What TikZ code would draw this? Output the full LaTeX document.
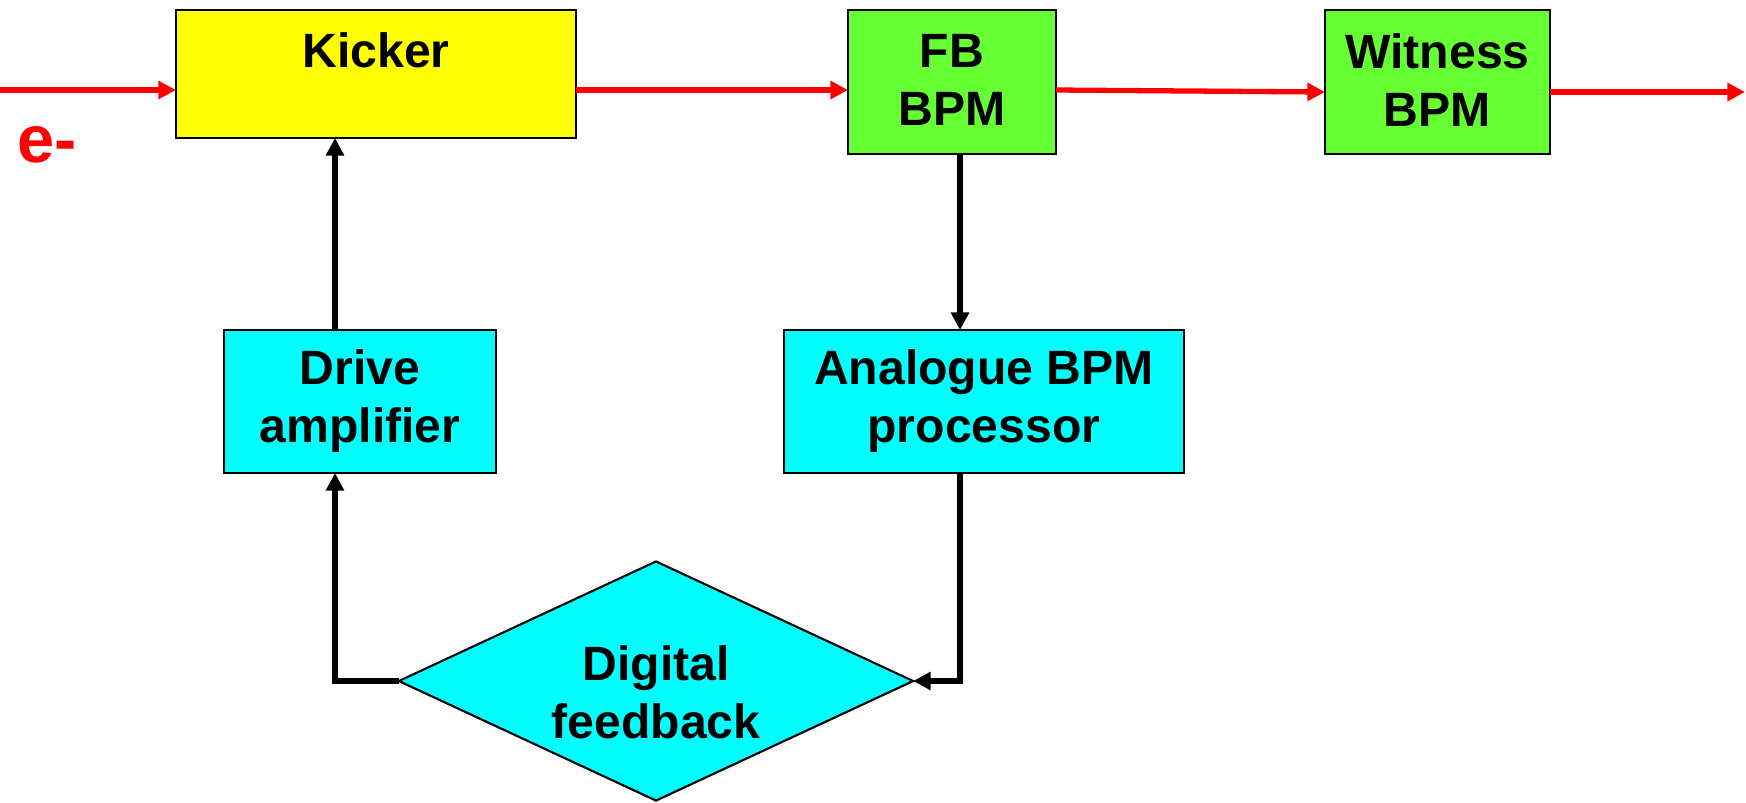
\documentclass[tikz,border=0pt]{standalone}
\usepackage{fontspec}
\setmainfont{Liberation Sans}
\usetikzlibrary{shapes.geometric,arrows.meta}
\definecolor{kyellow}{HTML}{FFFF00}
\definecolor{bgreen}{HTML}{66FF33}
\definecolor{bcyan}{HTML}{00FFFF}
\definecolor{bred}{HTML}{FF0000}
\begin{document}
\begin{tikzpicture}[x=0.01cm,y=-0.01cm,
  box/.style={draw=black,line width=0.7pt,inner sep=0pt,outer sep=0pt},
  lbl/.style={font=\fontsize{13.7pt}{16.5pt}\selectfont\bfseries,align=center,inner sep=0pt},
  beam/.style={draw=bred,line width=1.5pt,-{Triangle[length=5pt,width=5pt]}},
  link/.style={draw=black,line width=1.7pt,-{Triangle[length=5pt,width=5pt]}}]
\useasboundingbox (0,0) rectangle (1746,802);
% boxes
\node[box,fill=kyellow,minimum width=4cm,minimum height=1.28cm] (kick) at (376,74) {};
\node[lbl] (kickt) at (376,50) {Kicker};
\node[box,fill=bgreen,minimum width=2.08cm,minimum height=1.44cm] (fb) at (952,82) {};
\node[lbl] (fbt) at (952,80) {FB\\BPM};
\node[box,fill=bgreen,minimum width=2.25cm,minimum height=1.44cm] (wit) at (1437.5,82) {};
\node[lbl] (witt) at (1437.5,80) {Witness\\BPM};
\node[box,fill=bcyan,minimum width=2.72cm,minimum height=1.43cm] (drv) at (360,401.5) {};
\node[lbl] (drvt) at (360,401) {Drive\\amplifier};
\node[box,fill=bcyan,minimum width=4cm,minimum height=1.43cm] (ana) at (984,401.5) {};
\node[lbl] (anat) at (984,401) {Analogue BPM\\processor};
\node[box,diamond,fill=bcyan,line width=0.6pt,minimum width=5.14cm,minimum height=2.39cm] (dia) at (656,681) {};
\node[lbl] (diat) at (656,692) {Digital\\feedback};
% e- label
\node[font=\fontsize{19pt}{22pt}\selectfont\bfseries,text=bred,inner sep=0pt] (el) at (47,145) {e-};
% beam
\coordinate (bin) at (0,90);
\coordinate (bout) at (1745,92);
\draw[beam] (bin) -- (bin -| kick.west);
\draw[beam] (kick.east |- bin) -- (fb.west |- bin);
\draw[beam] (fb.east |- bin) -- (wit.west |- bout);
\draw[beam] (wit.east |- bout) -- (bout);
% feedback links
\coordinate (vl) at (335,0);
\coordinate (vr) at (960,0);
\draw[link] (fb.south -| vr) -- (ana.north -| vr);
\draw[link] (drv.north -| vl) -- (kick.south -| vl);
\draw[link] (dia.west) -- (dia.west -| vl) -- (drv.south -| vl);
\draw[link] (ana.south -| vr) -- (dia.east -| vr) -- (dia.east);
\end{tikzpicture}
\end{document}
